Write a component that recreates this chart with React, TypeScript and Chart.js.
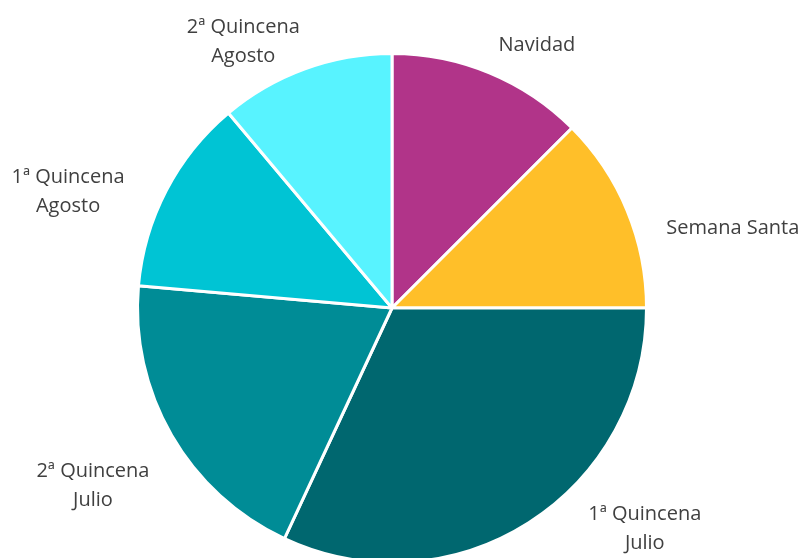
import React, { useEffect, useRef } from "react";
import { Chart, registerables } from "chart.js";

Chart.register(...registerables);

const categories = [
  "Navidad",
  "Semana Santa",
  "1ª Quincena Julio",
  "2ª Quincena Julio",
  "1ª Quincena Agosto",
  "2ª Quincena Agosto",
];
const labelLines = [
  ["Navidad"],
  ["Semana Santa"],
  ["1ª Quincena", "Julio"],
  ["2ª Quincena", "Julio"],
  ["1ª Quincena", "Agosto"],
  ["2ª Quincena", "Agosto"],
];
const values = [9, 9, 23, 14, 9, 8];
const colors = ["#B13489", "#FFBF29", "#00676F", "#008C96", "#00C4D4", "#58F3FF"];
// label placement relative to each slice: radius factor and angle shift (degrees)
const labelRadius = [1.178, 1.375, 1.32, 1.368, 1.352, 1.198];
const labelShift = [6.4, 9.4, -16.3, -0.8, -7.8, -9.2];

const labelPlugin = {
  id: "outsideLabels",
  afterDraw(chart: any) {
    const ctx = chart.ctx;
    const meta = chart.getDatasetMeta(0);
    ctx.save();
    ctx.font = '20px "Open Sans"';
    ctx.fillStyle = "#404040";
    ctx.textAlign = "center";
    ctx.textBaseline = "middle";
    const lh = 29;
    meta.data.forEach((arc: any, i: number) => {
      const p = arc.getProps(["x", "y", "startAngle", "endAngle", "outerRadius"], true);
      const mid = (p.startAngle + p.endAngle) / 2 + (labelShift[i] * Math.PI) / 180;
      const R = p.outerRadius * labelRadius[i];
      const cx = p.x + R * Math.cos(mid);
      const cy = p.y + R * Math.sin(mid);
      const lines = labelLines[i];
      const y0 = cy - ((lines.length - 1) * lh) / 2;
      lines.forEach((t, j) => ctx.fillText(t, cx, y0 + j * lh));
    });
    ctx.restore();
  },
};

export default function App() {
  const ref = useRef<HTMLCanvasElement>(null);
  useEffect(() => {
    document.body.style.margin = "0";
    document.body.style.overflow = "hidden";
    const chart = new Chart(ref.current!, {
      type: "pie",
      data: {
        labels: categories,
        datasets: [
          {
            data: values,
            backgroundColor: colors,
            borderColor: "#FFFFFF",
            borderWidth: 3,
          },
        ],
      },
      options: {
        animation: false,
        responsive: false,
        layout: { padding: { left: 136, right: 155, top: 52, bottom: 36 } },
        plugins: { legend: { display: false }, tooltip: { enabled: false } },
      },
      plugins: [labelPlugin],
    });
    return () => chart.destroy();
  }, []);
  return (
    <div style={{ width: 803, height: 558, overflow: "hidden", background: "#fff" }}>
      <canvas ref={ref} width={803} height={600} style={{ display: "block" }} />
    </div>
  );
}
